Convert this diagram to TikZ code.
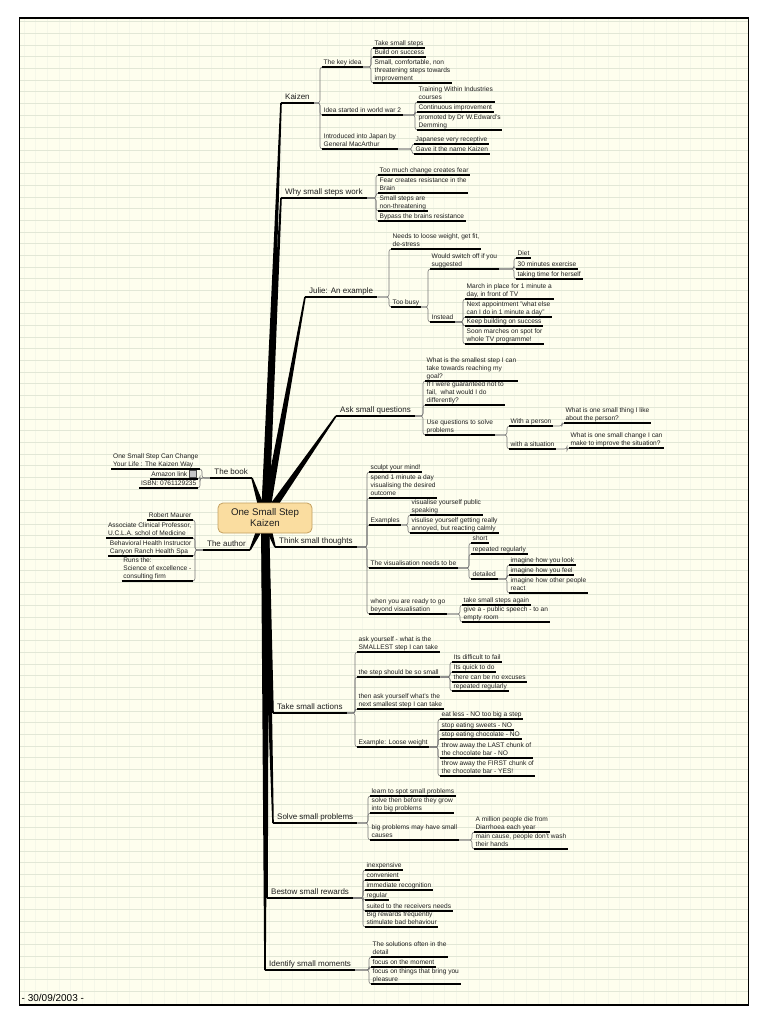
\documentclass[tikz,border=0pt]{standalone}
\usepackage{fontspec}
\setmainfont{Liberation Sans}
\usetikzlibrary{calc}
\definecolor{paper}{RGB}{254,254,238}
\definecolor{gridh}{RGB}{226,231,214}
\definecolor{gridv}{RGB}{245,247,233}
\definecolor{boxfill}{RGB}{250,221,160}
\definecolor{boxdraw}{RGB}{196,160,96}
\definecolor{ink}{RGB}{30,30,30}
\definecolor{connc}{RGB}{120,120,120}
\pgfdeclarelayer{bottom}
\pgfdeclarelayer{background}
\pgfsetlayers{bottom,background,main}
\newcommand{\kids}[2]{\foreach \c in {#2}{\draw[conn] (#1.south east) -| ([xshift=-2pt]\c.south west) -- (\c.south west);}}
\newcommand{\lkids}[2]{\foreach \c in {#2}{\draw[conn] (#1.south west) -| ([xshift=2pt]\c.south east) -- (\c.south east);}}
\newcommand{\wedgeto}[1]{\fill[black] ($(root.center)!4pt!90:(#1)$) -- ($(#1)!0.8pt!-90:(root.center)$) -- ($(#1)!0.8pt!90:(root.center)$) -- ($(root.center)!4pt!-90:(#1)$) -- cycle;}
\begin{document}
\begin{tikzpicture}[x=1pt,y=-1pt,
 leaf/.style={anchor=south west, font=\fontsize{6.6}{7.9}\selectfont, align=left, inner xsep=1.5pt, inner ysep=1.1pt, text depth=1.6pt, text=ink},
 lleaf/.style={leaf, anchor=south east},
 mainb/.style={anchor=south west, font=\fontsize{8}{9.6}\selectfont, inner xsep=4pt, inner ysep=1.5pt, text depth=2pt, text=ink},
 lmainb/.style={mainb, anchor=south east},
 uline/.style={draw=black, line width=1.1pt},
 muline/.style={draw=black, line width=1.4pt},
 conn/.style={draw=connc, line width=0.6pt, rounded corners=2.5pt},
 centre/.style={draw=boxdraw, fill=boxfill, rounded corners=5pt, minimum width=94pt, minimum height=30pt, align=center, font=\fontsize{9.7}{11}\selectfont, text=ink, line width=0.8pt},
 amzicon/.style={draw=black!70, fill=gray!45, minimum size=7pt, inner sep=0pt, line width=0.5pt}
]
\useasboundingbox (0,0) rectangle (768,1024);
\begin{pgfonlayer}{bottom}
\fill[white] (0,0) rectangle (768,1024);
\fill[paper] (19.5,18) rectangle (748.5,1005);
\foreach \k in {0,...,61} {\draw[gridv, line width=0.5pt] ({24+11.68*\k},18.5) -- ({24+11.68*\k},1004.5);}
\foreach \k in {0,...,83} {\draw[gridh, line width=0.6pt] (20,{21.7+11.68*\k}) -- (748,{21.7+11.68*\k});}
\draw[line width=1.5pt] (19.5,18) rectangle (748.5,1005);
\end{pgfonlayer}

\node[centre] (root) at (265,518) {One Small Step\\Kaizen};

% ---- Kaizen
\node[mainb] (kz) at (281,103) {Kaizen};
\node[leaf] (kz1) at (322,67) {The key idea};
\node[leaf] (kz11) at (373,48) {Take small steps};
\node[leaf] (kz12) at (373,57) {Build on success};
\node[leaf] (kz13) at (373,83) {Small, comfortable, non\\threatening steps towards\\improvement};
\node[leaf] (kz2) at (322,115) {Idea started in world war 2};
\node[leaf] (kz21) at (417,102) {Training Within Industries\\courses};
\node[leaf] (kz22) at (417,112) {Continuous improvement};
\node[leaf] (kz23) at (417,130) {promoted by Dr W.Edward's\\Demming};
\node[leaf] (kz3) at (322,149) {Introduced into Japan by\\General MacArthur};
\node[leaf] (kz31) at (414,144) {Japanese very receptive};
\node[leaf] (kz32) at (414,154) {Gave it the name Kaizen};

% ---- Why
\node[mainb] (why) at (281,198) {Why small steps work};
\node[leaf] (why1) at (378,175) {Too much change creates fear};
\node[leaf] (why2) at (378,193) {Fear creates resistance in the\\Brain};
\node[leaf] (why3) at (378,211) {Small steps are\\non-threatening};
\node[leaf] (why4) at (378,221) {Bypass the brains resistance};

% ---- Julie
\node[mainb] (jul) at (305,297) {Julie: An example};
\node[leaf] (jul1) at (391,249) {Needs to loose weight, get fit,\\de-stress};
\node[leaf] (jul2) at (391,307) {Too busy};
\node[leaf] (jul21) at (430,269) {Would switch off if you\\suggested};
\node[leaf] (jul211) at (516,258) {Diet};
\node[leaf] (jul212) at (516,269) {30 minutes exercise};
\node[leaf] (jul213) at (516,279) {taking time for herself};
\node[leaf] (jul22) at (430,322) {Instead};
\node[leaf] (jul221) at (465,299) {March in place for 1 minute a\\day, in front of TV};
\node[leaf] (jul222) at (465,317) {Next appointment "what else\\can I do in 1 minute a day"};
\node[leaf] (jul223) at (465,326) {Keep building on success};
\node[leaf] (jul224) at (465,344) {Soon marches on spot for\\whole TV programme!};

% ---- Ask
\node[mainb] (ask) at (336,416) {Ask small questions};
\node[leaf] (ask1) at (425,381) {What is the smallest step I can\\take towards reaching my\\goal?};
\node[leaf] (ask2) at (425,405) {If I were guaranteed not to\\fail,\ \ what would I do\\differently?};
\node[leaf] (ask3) at (425,435) {Use questions to solve\\problems};
\node[leaf] (ask31) at (509,426) {With a person};
\node[leaf] (ask311) at (564,423) {What is one small thing I like\\about the person?};
\node[leaf] (ask32) at (509,449) {with a situation};
\node[leaf] (ask321) at (569,448) {What is one small change I can\\make to improve the situation?};

% ---- Think
\node[mainb] (thk) at (275,547) {Think small thoughts};
\node[leaf] (thk1) at (369,472) {sculpt your mind!};
\node[leaf] (thk2) at (369,498) {spend 1 minute a day\\visualising the desired\\outcome};
\node[leaf] (thk3) at (369,525) {Examples};
\node[leaf] (thk31) at (410,515) {visualise yourself public\\speaking};
\node[leaf] (thk32) at (410,533) {visulise yourself getting really\\annoyed, but reacting calmly};
\node[leaf] (thk4) at (369,568) {The visualisation needs to be};
\node[leaf] (thk41) at (471,543) {short};
\node[leaf] (thk42) at (471,554) {repeated regularly};
\node[leaf] (thk43) at (471,579) {detailed};
\node[leaf] (thk431) at (509,565) {imagine how you look};
\node[leaf] (thk432) at (509,575) {imagine how you feel};
\node[leaf] (thk433) at (509,593) {imagine how other people\\react};
\node[leaf] (thk5) at (369,614) {when you are ready to go\\beyond visualisation};
\node[leaf] (thk51) at (462,605) {take small steps again};
\node[leaf] (thk52) at (462,622) {give a - public speech - to an\\empty room};

% ---- Take
\node[mainb] (tak) at (273,713) {Take small actions};
\node[leaf] (tak1) at (357,652) {ask yourself - what is the\\SMALLEST step I can take};
\node[leaf] (tak2) at (357,677) {the step should be so small};
\node[leaf] (tak21) at (452,662) {Its difficult to fail};
\node[leaf] (tak22) at (452,672) {Its quick to do};
\node[leaf] (tak23) at (452,682) {there can be no excuses};
\node[leaf] (tak24) at (452,691) {repeated regularly};
\node[leaf] (tak3) at (357,709) {then ask yourself what's the\\next smallest step I can take};
\node[leaf] (tak4) at (357,747) {Example: Loose weight};
\node[leaf] (tak41) at (440,719) {eat less - NO too big a step};
\node[leaf] (tak42) at (440,730) {stop eating sweets - NO};
\node[leaf] (tak43) at (440,739) {stop eating chocolate - NO};
\node[leaf] (tak44) at (440,758) {throw away the LAST chunk of\\the chocolate bar - NO};
\node[leaf] (tak45) at (440,776) {throw away the FIRST chunk of\\the chocolate bar - YES!};

% ---- Solve
\node[mainb] (sol) at (273,823) {Solve small problems};
\node[leaf] (sol1) at (370,796) {learn to spot small problems};
\node[leaf] (sol2) at (370,813) {solve then before they grow\\into big problems};
\node[leaf] (sol3) at (370,840) {big problems may have small\\causes};
\node[leaf] (sol31) at (474,832) {A million people die from\\Diarrhoea each year};
\node[leaf] (sol32) at (474,849) {main cause, people don't wash\\their hands};

% ---- Bestow
\node[mainb] (bes) at (267,898) {Bestow small rewards};
\node[leaf] (bes1) at (365,870) {inexpensive};
\node[leaf] (bes2) at (365,880) {convenient};
\node[leaf] (bes3) at (365,890) {immediate recognition};
\node[leaf] (bes4) at (365,900) {regular};
\node[leaf] (bes5) at (365,911) {suited to the receivers needs};
\node[leaf] (bes6) at (365,927) {Big rewards frequently\\stimulate bad behaviour};

% ---- Identify
\node[mainb] (idn) at (265,970) {Identify small moments};
\node[leaf] (idn1) at (371,957) {The solutions often in the\\detail};
\node[leaf] (idn2) at (371,967) {focus on the moment};
\node[leaf] (idn3) at (371,984) {focus on things that bring you\\pleasure};

% ---- Book (left)
\node[lmainb] (book) at (252,478) {The book};
\node[lleaf] (book1) at (200,469) {One Small Step Can Change\\Your Life : The Kaizen Way};
\node[lleaf] (book2) at (198,479) {Amazon link\hspace{9pt}};
\node[amzicon] (amz) at (192.5,474) {};
\node[lleaf] (book3) at (198,488) {ISBN: 0761129235};

% ---- Author (left)
\node[lmainb] (aut) at (250,550) {The author};
\node[lleaf] (aut1) at (193,520) {Robert Maurer};
\node[lleaf] (aut2) at (193,538) {Associate Clinical Professor,\\U.C.L.A. schol of Medicine};
\node[lleaf] (aut3) at (193,556) {Behavioral Health Instructor\\Canyon Ranch Health Spa};
\node[lleaf] (aut4) at (193,581) {Runs the:\\Science of excellence -\\consulting firm};

% ---- date
\node[anchor=west, font=\fontsize{10}{12}\selectfont, inner sep=0pt] (date) at (21.5,998) {- 30/09/2003 -};

\begin{pgfonlayer}{background}
% trunk wedges
\foreach \m in {kz,why,jul,ask,thk,tak,sol,bes,idn} {\wedgeto{\m.south west}}
\foreach \m in {book,aut} {\wedgeto{\m.south east}}
% connectors
\kids{kz}{kz1,kz2,kz3}
\kids{kz1}{kz11,kz12,kz13}
\kids{kz2}{kz21,kz22,kz23}
\kids{kz3}{kz31,kz32}
\kids{why}{why1,why2,why3,why4}
\kids{jul}{jul1,jul2}
\kids{jul2}{jul21,jul22}
\kids{jul21}{jul211,jul212,jul213}
\kids{jul22}{jul221,jul222,jul223,jul224}
\kids{ask}{ask1,ask2,ask3}
\kids{ask3}{ask31,ask32}
\kids{ask31}{ask311}
\kids{ask32}{ask321}
\kids{thk}{thk1,thk2,thk3,thk4,thk5}
\kids{thk3}{thk31,thk32}
\kids{thk4}{thk41,thk42,thk43}
\kids{thk43}{thk431,thk432,thk433}
\kids{thk5}{thk51,thk52}
\kids{tak}{tak1,tak2,tak3,tak4}
\kids{tak2}{tak21,tak22,tak23,tak24}
\kids{tak4}{tak41,tak42,tak43,tak44,tak45}
\kids{sol}{sol1,sol2,sol3}
\kids{sol3}{sol31,sol32}
\kids{bes}{bes1,bes2,bes3,bes4,bes5,bes6}
\kids{idn}{idn1,idn2,idn3}
\lkids{book}{book1,book2,book3}
\lkids{aut}{aut1,aut2,aut3,aut4}
% underlines
\foreach \n in {kz,why,jul,ask,thk,tak,sol,bes,idn,book,aut} {\draw[muline] (\n.south west) -- (\n.south east);}
\foreach \n in {kz1,kz11,kz12,kz13,kz2,kz21,kz22,kz23,kz3,kz31,kz32,
  why1,why2,why3,why4,
  jul1,jul2,jul21,jul211,jul212,jul213,jul22,jul221,jul222,jul223,jul224,
  ask1,ask2,ask3,ask31,ask311,ask32,ask321,
  thk1,thk2,thk3,thk31,thk32,thk4,thk41,thk42,thk43,thk431,thk432,thk433,thk5,thk51,thk52,
  tak1,tak2,tak21,tak22,tak23,tak24,tak3,tak4,tak41,tak42,tak43,tak44,tak45,
  sol1,sol2,sol3,sol31,sol32,
  bes1,bes2,bes3,bes4,bes5,bes6,
  idn1,idn2,idn3,
  book1,book2,book3,aut1,aut2,aut3,aut4} {\draw[uline] (\n.south west) -- (\n.south east);}
\end{pgfonlayer}
\end{tikzpicture}
\end{document}
